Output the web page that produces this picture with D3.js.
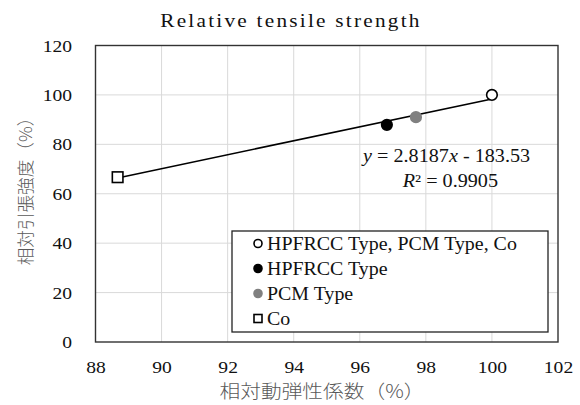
<!DOCTYPE html>
<html>
<head>
<meta charset="utf-8">
<script src="https://cdn.jsdelivr.net/npm/d3@7"></script>
<style>
  body { margin: 0; background: #fff; }
  svg { display: block; }
</style>
</head>
<body>
<div id="vis"></div>
<script>
// chart data
var seriesNames = ["HPFRCC Type, PCM Type, Co", "HPFRCC Type", "PCM Type", "Co"];
var xValues = [100, 96.82, 97.7, 88.67];
var yValues = [100, 87.9, 91.0, 66.7];
var xTicks = [88, 90, 92, 94, 96, 98, 100, 102];
var yTicks = [0, 20, 40, 60, 80, 100, 120];
var trend = { slope: 2.8187, intercept: -183.53, r2: 0.9905 };

var width = 580, height = 405;
var margin = { top: 45.5, right: 22, bottom: 63, left: 95.5 };

// the original text is a little wide, so stretch it horizontally
var sx = 1.12;

var svg = d3.select("#vis").append("svg")
    .attr("width", width)
    .attr("height", height);

var x = d3.scaleLinear().domain([88, 102]).range([margin.left, width - margin.right]);
var y = d3.scaleLinear().domain([0, 120]).range([height - margin.bottom, margin.top]);

var serif = "'Liberation Serif', 'Times New Roman', serif";
var cjk = "'Noto Sans CJK JP', sans-serif";

// put a text at (px, py), stretched
function label(px, py) {
    return svg.append("g")
        .attr("transform", "translate(" + px + "," + py + ") scale(" + sx + ",1)")
        .append("text");
}

// gridlines
svg.append("g").selectAll("line")
    .data(xTicks.slice(1, -1))
    .enter().append("line")
    .attr("x1", function(d) { return x(d); })
    .attr("x2", function(d) { return x(d); })
    .attr("y1", y(0)).attr("y2", y(120))
    .attr("stroke", "#d9d9d9").attr("stroke-width", 1);

svg.append("g").selectAll("line")
    .data(yTicks.slice(1, -1))
    .enter().append("line")
    .attr("y1", function(d) { return y(d); })
    .attr("y2", function(d) { return y(d); })
    .attr("x1", x(88)).attr("x2", x(102))
    .attr("stroke", "#d9d9d9").attr("stroke-width", 1);

// plot frame
svg.append("rect")
    .attr("x", x(88)).attr("y", y(120))
    .attr("width", x(102) - x(88)).attr("height", y(0) - y(120))
    .attr("fill", "none").attr("stroke", "#333").attr("stroke-width", 1.4);

// axes (labels only)
var xAxis = svg.append("g")
    .attr("transform", "translate(0," + y(0) + ")")
    .call(d3.axisBottom(x).tickValues(xTicks).tickSize(0).tickPadding(18.5));
var yAxis = svg.append("g")
    .attr("transform", "translate(" + x(88) + ",0)")
    .call(d3.axisLeft(y).tickValues(yTicks).tickSize(0).tickPadding(23.5 / sx));
[xAxis, yAxis].forEach(function(a) {
    a.select(".domain").remove();
    a.selectAll("text")
        .attr("transform", "scale(" + sx + ",1)")
        .attr("font-family", serif)
        .attr("font-size", 17.5)
        .attr("fill", "#111");
});

// trendline over data range
var xMin = d3.min(xValues), xMax = d3.max(xValues);
svg.append("line")
    .attr("x1", x(xMin)).attr("y1", y(trend.slope * xMin + trend.intercept))
    .attr("x2", x(xMax)).attr("y2", y(trend.slope * xMax + trend.intercept))
    .attr("stroke", "#000").attr("stroke-width", 1.6);

// markers
var styles = [
    { shape: "circle", fill: "#fff", stroke: "#000" },
    { shape: "circle", fill: "#000", stroke: "#000" },
    { shape: "circle", fill: "#808080", stroke: "#808080" },
    { shape: "square", fill: "#fff", stroke: "#000" }
];

function drawMarker(g, s, cx, cy, r) {
    if (s.shape === "circle") {
        g.append("circle").attr("cx", cx).attr("cy", cy).attr("r", r)
            .attr("fill", s.fill).attr("stroke", s.stroke).attr("stroke-width", 1.6);
    } else {
        g.append("rect").attr("x", cx - r).attr("y", cy - r)
            .attr("width", 2 * r).attr("height", 2 * r)
            .attr("fill", s.fill).attr("stroke", s.stroke).attr("stroke-width", 1.6);
    }
}

var pts = svg.append("g");
xValues.forEach(function(v, i) {
    drawMarker(pts, styles[i], x(v), y(yValues[i]), 5.3);
});

// equation label
var eq = label(x(96.1), y(72.8))
    .attr("font-family", serif).attr("font-size", 18).attr("fill", "#111");
eq.append("tspan").attr("font-style", "italic").text("y");
eq.append("tspan").text(" = " + trend.slope);
eq.append("tspan").attr("font-style", "italic").text("x");
eq.append("tspan").text(" - " + (-trend.intercept).toFixed(2));

var r2 = label(x(97.3), y(62.9))
    .attr("font-family", serif).attr("font-size", 18).attr("fill", "#111");
r2.append("tspan").attr("font-style", "italic").text("R");
r2.append("tspan").text("² = " + trend.r2);

// legend
var legend = svg.append("g").attr("transform", "translate(232,231)");
legend.append("rect")
    .attr("width", 316).attr("height", 101)
    .attr("fill", "#fff").attr("stroke", "#222").attr("stroke-width", 1.3);
seriesNames.forEach(function(name, i) {
    var row = legend.append("g").attr("transform", "translate(0," + (12.5 + i * 25) + ")");
    drawMarker(row, styles[i], 26, 0, 4);
    row.append("g").attr("transform", "translate(35,0) scale(" + sx + ",1)")
        .append("text").attr("dy", "0.35em")
        .attr("font-family", serif).attr("font-size", 17.8).attr("fill", "#111")
        .text(name);
});

// titles
label(291, 27)
    .attr("text-anchor", "middle")
    .attr("font-family", serif).attr("font-size", 19)
    .attr("letter-spacing", "2px").attr("fill", "#111")
    .text("Relative tensile strength");

label(322, 398)
    .attr("text-anchor", "middle")
    .attr("font-family", cjk).attr("font-size", 18.5).attr("font-weight", 300)
    .attr("fill", "#595959")
    .text("相対動弾性係数（%）");

svg.append("text")
    .attr("transform", "translate(32,187) rotate(-90)")
    .attr("text-anchor", "middle")
    .attr("font-family", cjk).attr("font-size", 17.6).attr("font-weight", 300)
    .attr("fill", "#595959")
    .text("相対引張強度（%）");
</script>
</body>
</html>
